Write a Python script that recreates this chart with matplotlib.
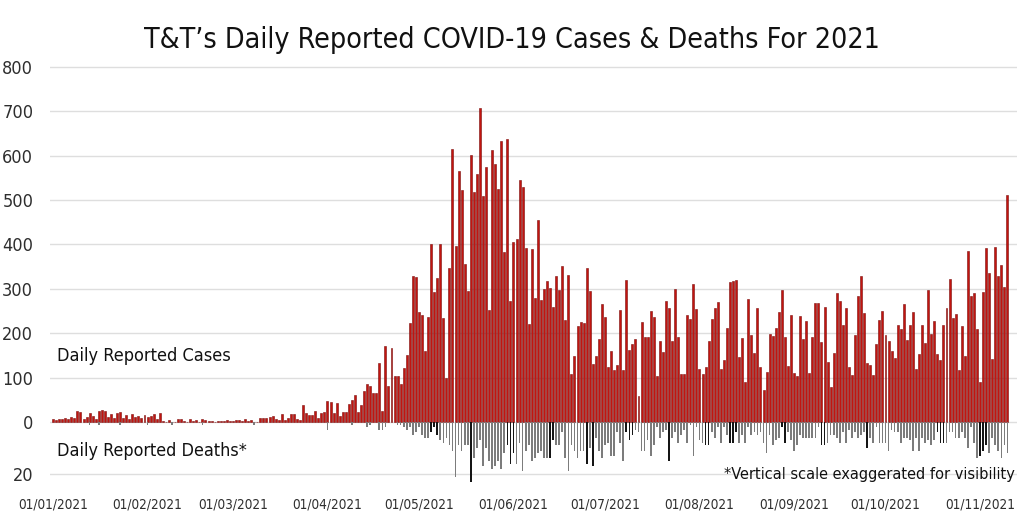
import numpy as np
import pandas as pd
import matplotlib
matplotlib.use("Agg")
import matplotlib.pyplot as plt
import matplotlib.dates as mdates
from matplotlib import font_manager

# Daily reported cases, 01/01/2021 - 10/11/2021
cases_jan = [6, 5, 7, 6, 9, 8, 12, 10, 25, 22, 8, 12, 20, 14, 8, 24, 28, 26, 12, 18,
             10, 20, 22, 10, 16, 8, 18, 12, 14, 10, 16]
cases_feb = [12, 14, 18, 8, 20, 3, 0, 4, 1, 0, 6, 8, 3, 0, 6, 2, 4, 0, 7, 5,
             3, 2, 0, 3, 2, 3, 4, 2]
cases_mar = [3, 5, 4, 3, 6, 3, 4, 0, 0, 9, 10, 9, 12, 13, 6, 5, 18, 5, 9, 19,
             18, 8, 5, 38, 21, 16, 16, 25, 10, 20, 22]
cases_apr = [47, 46, 21, 44, 14, 22, 22, 41, 50, 60, 23, 38, 70, 85, 81, 65, 65, 134, 25, 171,
             81, 167, 104, 104, 86, 121, 151, 224, 328, 326]
cases_may = [248, 241, 159, 236, 401, 293, 324, 402, 234, 100, 347, 616, 397, 565, 522, 357, 296, 602, 519, 558,
             708, 509, 574, 252, 612, 582, 526, 634, 382, 637, 272]
cases_jun = [405, 412, 546, 529, 392, 220, 390, 280, 455, 274, 300, 318, 301, 260, 328, 298, 352, 229, 331, 108,
             148, 217, 226, 223, 347, 296, 130, 148, 187, 265]
cases_jul = [237, 125, 161, 117, 128, 252, 117, 320, 162, 176, 188, 59, 225, 191, 192, 251, 236, 104, 182, 157,
             273, 258, 182, 300, 191, 109, 109, 242, 233, 310, 254]
cases_aug = [119, 109, 125, 183, 232, 258, 270, 119, 140, 213, 315, 318, 320, 147, 190, 91, 278, 195, 156, 258,
             123, 72, 113, 198, 194, 212, 248, 297, 192, 126, 241]
cases_sep = [110, 104, 239, 186, 227, 110, 191, 269, 269, 181, 259, 136, 79, 156, 290, 273, 219, 257, 125, 107,
             197, 285, 330, 246, 134, 128, 107, 175, 231, 251]
cases_oct = [196, 182, 160, 144, 218, 209, 266, 185, 218, 247, 119, 154, 218, 177, 297, 199, 227, 154, 140, 219,
             258, 322, 235, 244, 117, 216, 148, 386, 284, 290, 209]
cases_nov = [90, 294, 393, 335, 141, 395, 329, 354, 305, 511]

# Daily reported deaths
deaths_jan = [0, 0, 0, 0, 0, 0, 0, 0, 0, 0, 0, 0, 1, 0, 0, 1, 0, 0, 0, 0,
              0, 0, 1, 0, 0, 0, 0, 0, 0, 0, 0]
deaths_feb = [1, 0, 0, 0, 0, 0, 0, 0, 1, 0, 0, 0, 0, 0, 0, 0, 0, 0, 1, 0,
              0, 0, 0, 0, 0, 0, 0, 0]
deaths_mar = [0, 0, 0, 0, 0, 0, 0, 1, 0, 0, 0, 0, 0, 0, 0, 0, 0, 0, 0, 0,
              0, 0, 0, 0, 0, 0, 0, 0, 0, 0, 0]
deaths_apr = [3, 0, 0, 0, 0, 0, 0, 0, 1, 0, 0, 0, 0, 2, 1, 0, 0, 3, 3, 2,
              0, 0, 0, 1, 1, 2, 3, 2, 5, 4]
deaths_may = [2, 5, 6, 6, 4, 2, 5, 7, 8, 6, 9, 11, 21, 9, 11, 9, 9, 23, 14, 10,
              7, 17, 10, 15, 18, 17, 15, 18, 12, 9, 16]
deaths_jun = [12, 16, 8, 19, 11, 9, 15, 14, 12, 11, 14, 14, 14, 7, 9, 9, 4, 14, 19, 9,
              11, 14, 11, 11, 16, 10, 17, 6, 11, 14]
deaths_jul = [9, 8, 13, 13, 4, 8, 15, 4, 7, 5, 3, 4, 11, 11, 7, 13, 9, 2, 6, 4,
              3, 15, 6, 4, 8, 5, 3, 8, 1, 13, 2]
deaths_aug = [7, 8, 9, 9, 4, 6, 2, 8, 2, 5, 8, 8, 4, 8, 5, 8, 2, 5, 4, 5,
              4, 8, 12, 5, 9, 7, 6, 2, 8, 4, 7]
deaths_sep = [11, 9, 5, 6, 6, 6, 6, 6, 2, 9, 9, 8, 5, 5, 6, 8, 4, 8, 3, 6,
              4, 6, 5, 4, 10, 6, 8, 2, 8, 8]
deaths_oct = [8, 11, 3, 4, 4, 8, 6, 6, 7, 11, 6, 11, 6, 8, 7, 9, 7, 4, 8, 8,
              8, 4, 4, 6, 6, 4, 6, 10, 2, 8, 14]
deaths_nov = [13, 11, 9, 12, 6, 9, 11, 14, 9, 12]

# day indices whose death bar is drawn dark
dark_death_days = [124, 125, 126, 137, 149, 150, 151, 163, 164, 175, 177, 188, 189, 190,
                   202, 214, 215, 222, 223, 224, 239, 240, 252, 253, 267, 290, 291, 292,
                   304, 305, 306]

cases = np.array(cases_jan + cases_feb + cases_mar + cases_apr + cases_may + cases_jun +
                 cases_jul + cases_aug + cases_sep + cases_oct + cases_nov)
deaths = np.array(deaths_jan + deaths_feb + deaths_mar + deaths_apr + deaths_may + deaths_jun +
                  deaths_jul + deaths_aug + deaths_sep + deaths_oct + deaths_nov)
dates = pd.date_range("2021-01-01", periods=len(cases), freq="D")

DEATH_SCALE = 5.85  # deaths drawn exaggerated, in case units

# pick a narrow font if there is one
names = {(f.name, f.stretch) for f in font_manager.fontManager.ttflist}
if any(n == 'Liberation Sans Narrow' for n, _ in names):
    FONT = dict(family='Liberation Sans Narrow')
elif any(n == 'DejaVu Sans' and str(s) in ('condensed', 'semi-condensed', '87.5', '75') for n, s in names):
    FONT = dict(family='DejaVu Sans', stretch='condensed')
else:
    FONT = dict(family='Roboto')
plt.rcParams['font.family'] = FONT['family']
if 'stretch' in FONT:
    plt.rcParams['font.stretch'] = FONT['stretch']

fig = plt.figure(figsize=(10.24, 5.22), dpi=100)
ax = fig.add_axes([0.0488, 0.0766, 0.944, 0.8038])
renderer = fig.canvas.get_renderer()


def fit_size(txt, width_px, base=20):
    t = fig.text(0, 0, txt, fontsize=base)
    w = t.get_window_extent(renderer).width
    t.remove()
    return base * width_px / w


death_colors = ['#151515' if i in dark_death_days else '#7c7c7c' for i in range(len(deaths))]
ax.bar(dates, cases, width=0.65, color='#c2140f', edgecolor='#7a0d0d', linewidth=0.4, zorder=3)
ax.bar(dates, -deaths * DEATH_SCALE, width=0.55, color=death_colors, linewidth=0, zorder=3)

yticks = [0, 100, 200, 300, 400, 500, 600, 700, 800, -20 * DEATH_SCALE]
ylabels = ['0', '100', '200', '300', '400', '500', '600', '700', '800', '20']
ax.set_yticks(yticks)
ax.set_yticklabels(ylabels)
ax.set_ylim(-135, 810)
ax.set_xlim(dates[0] - pd.Timedelta(days=1), dates[0] + pd.Timedelta(days=316))
ax.grid(axis='y', color='#dedede', linewidth=1, zorder=0)

month_starts = pd.date_range("2021-01-01", "2021-11-01", freq="MS")
ax.set_xticks(month_starts)
ax.xaxis.set_major_formatter(mdates.DateFormatter('%d/%m/%Y'))
ax.tick_params(axis='x', length=0, labelsize=fit_size("01/01/2021", 70), labelcolor='#2e2e2e', pad=11)
ax.tick_params(axis='y', length=0, labelsize=fit_size("800", 31), labelcolor='#2e2e2e', pad=12)
for s in ax.spines.values():
    s.set_visible(False)

title = "T\u0026T\u2019s Daily Reported COVID-19 Cases \u0026 Deaths For 2021"
fig.text(0.5, 0.923, title, ha='center', va='center', fontsize=fit_size(title, 737), color='#111111')
ax.text(dates[1] + pd.Timedelta(days=0.3), 149, "Daily Reported Cases", ha='left', va='center',
        fontsize=fit_size("Daily Reported Cases", 173), color='#111111')
ax.text(dates[1] + pd.Timedelta(days=0.3), -65, "Daily Reported Deaths*", ha='left', va='center',
        fontsize=fit_size("Daily Reported Deaths*", 189), color='#111111')
note = "*Vertical scale exaggerated for visibility"
ax.text(dates[0] + pd.Timedelta(days=315.5), -119, note, ha='right', va='center',
        fontsize=fit_size(note, 291), color='#111111')

fig.savefig("out.png", dpi=100)
